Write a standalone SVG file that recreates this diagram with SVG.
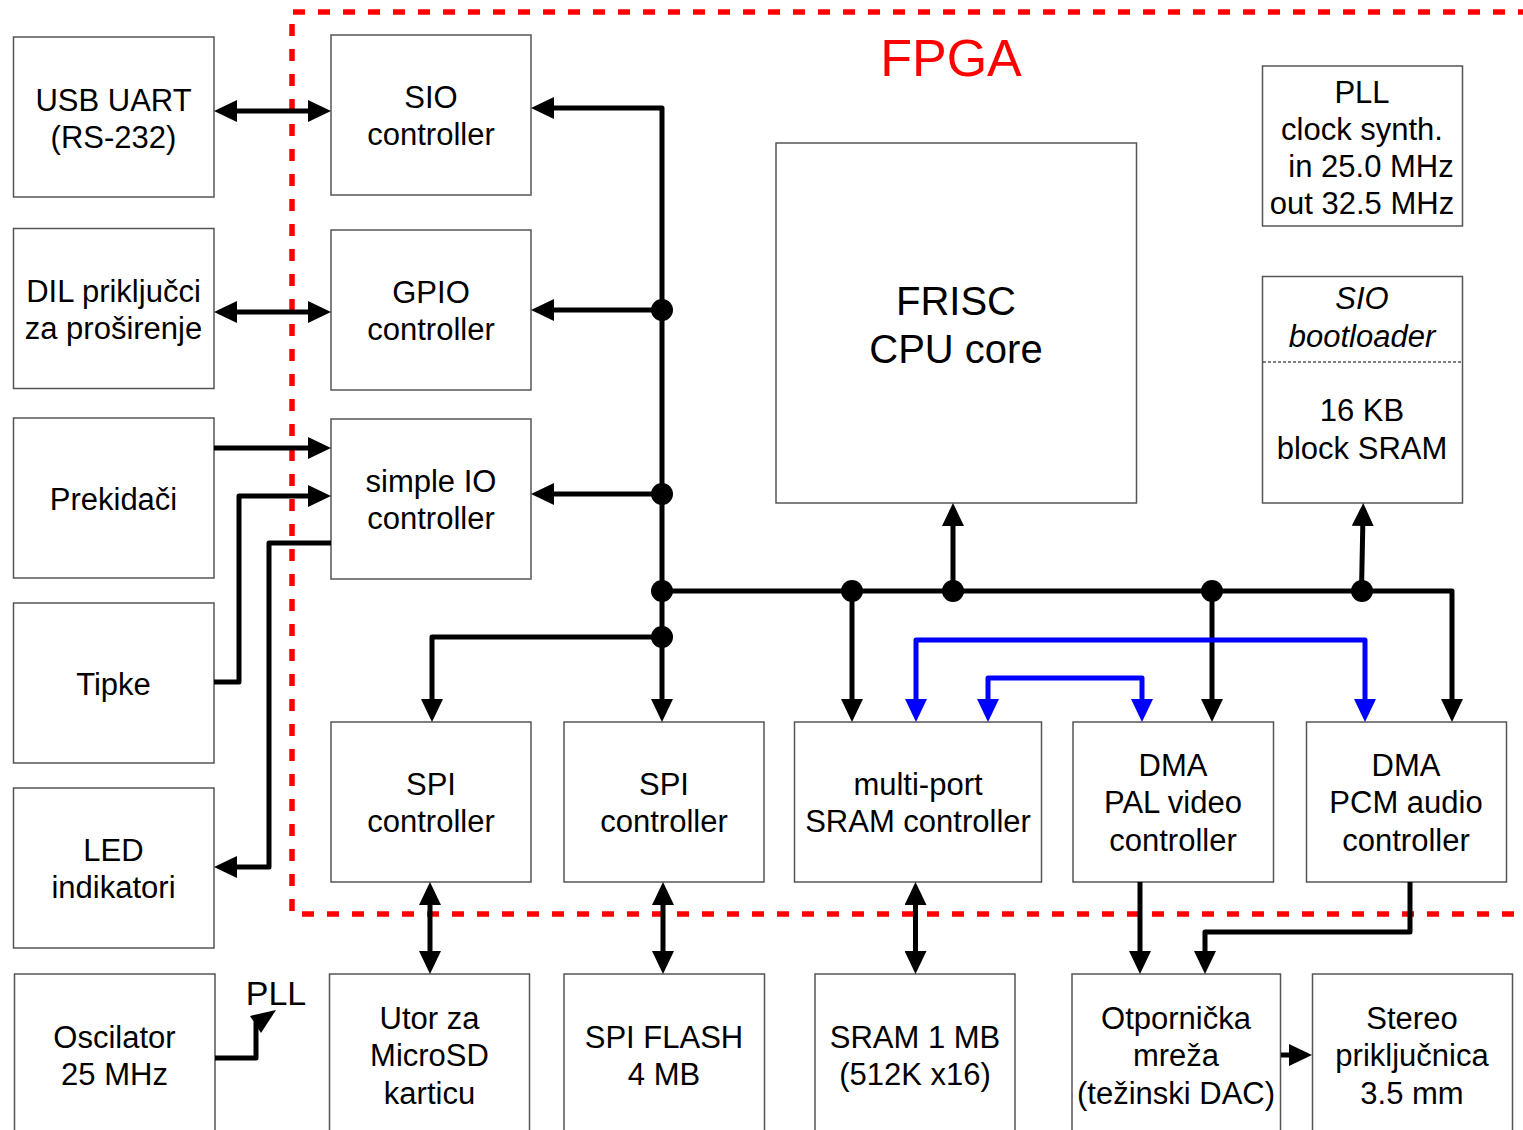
<svg xmlns="http://www.w3.org/2000/svg" width="1523" height="1130" viewBox="0 0 1523 1130">
<style>
.box{fill:#fff;stroke:#555;stroke-width:1.5}
.t{font-family:"Liberation Sans",Arial,sans-serif;font-size:31px;fill:#000;text-anchor:middle}
.c{fill:none;stroke:#000;stroke-width:5;stroke-linejoin:round}
.b{fill:none;stroke:#0000ff;stroke-width:5;stroke-linejoin:round}
.s{marker-end:url(#ah)}
.d{marker-start:url(#ah);marker-end:url(#ah)}
.bd{marker-start:url(#ahb);marker-end:url(#ahb)}
</style>
<defs>
<marker id="ah" viewBox="0 0 23 22" refX="1" refY="11" markerWidth="23" markerHeight="22" markerUnits="userSpaceOnUse" orient="auto-start-reverse"><path d="M0,0 L23,11 L0,22 z" fill="#000"/></marker>
<marker id="ahb" viewBox="0 0 23 22" refX="1" refY="11" markerWidth="23" markerHeight="22" markerUnits="userSpaceOnUse" orient="auto-start-reverse"><path d="M0,0 L23,11 L0,22 z" fill="#0000ff"/></marker>
</defs>
<rect width="1523" height="1130" fill="#fff"/>

<g id="fpga">
<path d="M1530 12 H292 V914 H1530" fill="none" stroke="#ff0000" stroke-width="5.5" stroke-dasharray="12 13"/>
<text x="951" y="76" font-family="'Liberation Sans',Arial,sans-serif" font-size="52" fill="#ff0000" text-anchor="middle">FPGA</text>
</g>

<g id="usb-uart"><rect class="box" x="13.5" y="37" width="200.5" height="160"/><text class="t" x="113.5" y="111">USB UART</text><text class="t" x="113.5" y="148">(RS-232)</text></g>
<g id="dil"><rect class="box" x="13.5" y="228.5" width="200.5" height="160"/><text class="t" x="113.5" y="302">DIL priključci</text><text class="t" x="113.5" y="339">za proširenje</text></g>
<g id="prekidaci"><rect class="box" x="13.5" y="418" width="200.5" height="160"/><text class="t" x="113.5" y="510">Prekidači</text></g>
<g id="tipke"><rect class="box" x="13.5" y="603" width="200.5" height="160"/><text class="t" x="113.5" y="695">Tipke</text></g>
<g id="led"><rect class="box" x="13.5" y="788" width="200.5" height="160"/><text class="t" x="113.5" y="861">LED</text><text class="t" x="113.5" y="898">indikatori</text></g>
<g id="oscilator"><rect class="box" x="14.5" y="974" width="200.5" height="160"/><text class="t" x="114.5" y="1048">Oscilator</text><text class="t" x="114.5" y="1085">25 MHz</text></g>

<g id="sio"><rect class="box" x="331" y="35" width="200" height="160"/><text class="t" x="431" y="108">SIO</text><text class="t" x="431" y="145">controller</text></g>
<g id="gpio"><rect class="box" x="331" y="230" width="200" height="160"/><text class="t" x="431" y="303">GPIO</text><text class="t" x="431" y="340">controller</text></g>
<g id="simpleio"><rect class="box" x="331" y="419" width="200" height="160"/><text class="t" x="431" y="492">simple IO</text><text class="t" x="431" y="529">controller</text></g>

<g id="frisc"><rect class="box" x="776" y="143" width="360.5" height="360"/><text class="t" x="956" y="315" font-size="40" style="font-size:40px">FRISC</text><text class="t" x="956" y="363" style="font-size:40px">CPU core</text></g>

<g id="pll"><rect class="box" x="1262.5" y="66" width="200" height="160"/><text class="t" x="1362" y="103">PLL</text><text class="t" x="1362" y="140">clock synth.</text><text class="t" x="1371" y="177">in 25.0 MHz</text><text class="t" x="1362" y="214">out 32.5 MHz</text></g>

<g id="bootsram"><rect class="box" x="1262.5" y="276.5" width="200" height="226.5"/><line x1="1263" y1="362" x2="1462" y2="362" stroke="#000" stroke-width="1" stroke-dasharray="3 2"/><text class="t" x="1362" y="309" font-style="italic">SIO</text><text class="t" x="1362" y="347" font-style="italic">bootloader</text><text class="t" x="1362" y="421">16 KB</text><text class="t" x="1362" y="459">block SRAM</text></g>

<g id="spi1"><rect class="box" x="331" y="722" width="200" height="160"/><text class="t" x="431" y="795">SPI</text><text class="t" x="431" y="832">controller</text></g>
<g id="spi2"><rect class="box" x="564" y="722" width="200" height="160"/><text class="t" x="664" y="795">SPI</text><text class="t" x="664" y="832">controller</text></g>
<g id="multiport"><rect class="box" x="794.5" y="722" width="247" height="160"/><text class="t" x="918" y="795">multi-port</text><text class="t" x="918" y="832">SRAM controller</text></g>
<g id="dmapal"><rect class="box" x="1073" y="722" width="200.5" height="160"/><text class="t" x="1173" y="776">DMA</text><text class="t" x="1173" y="813">PAL video</text><text class="t" x="1173" y="851">controller</text></g>
<g id="dmapcm"><rect class="box" x="1306.5" y="722" width="200" height="160"/><text class="t" x="1406" y="776">DMA</text><text class="t" x="1406" y="813">PCM audio</text><text class="t" x="1406" y="851">controller</text></g>

<g id="microsd"><rect class="box" x="329.5" y="974" width="200" height="160"/><text class="t" x="429.5" y="1029">Utor za</text><text class="t" x="429.5" y="1066">MicroSD</text><text class="t" x="429.5" y="1104">karticu</text></g>
<g id="spiflash"><rect class="box" x="564" y="974" width="200.5" height="160"/><text class="t" x="664" y="1048">SPI FLASH</text><text class="t" x="664" y="1085">4 MB</text></g>
<g id="sram"><rect class="box" x="815" y="974" width="200" height="160"/><text class="t" x="915" y="1048">SRAM 1 MB</text><text class="t" x="915" y="1085">(512K x16)</text></g>
<g id="dac"><rect class="box" x="1072" y="974" width="208.5" height="160"/><text class="t" x="1176" y="1029">Otpornička</text><text class="t" x="1176" y="1066">mreža</text><text class="t" x="1176" y="1104">(težinski DAC)</text></g>
<g id="stereo"><rect class="box" x="1312.5" y="974" width="200" height="160"/><text class="t" x="1412" y="1029">Stereo</text><text class="t" x="1412" y="1066">priključnica</text><text class="t" x="1412" y="1104">3.5 mm</text></g>

<g id="pll-label"><text class="t" x="276" y="1005" style="font-size:34px">PLL</text></g>

<g id="connectors">
<path class="c d" d="M236 111 H309"/>
<path class="c d" d="M236 312 H309"/>
<path class="c s" d="M214 448 H309"/>
<path class="c s" d="M214 682 H239 V496 H309"/>
<path class="c s" d="M331 543 H269 V867 H236"/>
<path class="c d" d="M553 108 H662 V700"/>
<path class="c s" d="M662 310 H553"/>
<path class="c s" d="M662 494 H553"/>
<path class="c s" d="M662 637 H432 V700"/>
<path class="c s" d="M662 591 H1452 V700"/>
<path class="c s" d="M852 591 V700"/>
<path class="c s" d="M953 591 V525"/>
<path class="c s" d="M1212 591 V700"/>
<path class="c s" d="M1361.5 591 L1362.8 525"/>
<path class="b bd" d="M916 700 V640 H1365 V700"/>
<path class="b bd" d="M988 700 V678 H1142 V700"/>
<path class="c d" d="M430 904 V952"/>
<path class="c d" d="M663 904 V952"/>
<path class="c d" d="M915.5 904 V952"/>
<path class="c s" d="M1140 882 V952"/>
<path class="c s" d="M1410 882 V932 H1205 V952"/>
<path class="c s" d="M1281 1055 H1290"/>
<path class="c" d="M215 1058 H256 V1022"/>
<polygon points="250,1016 276,1010 261,1033" fill="#000"/>
<circle cx="662" cy="310" r="11"/>
<circle cx="662" cy="494" r="11"/>
<circle cx="662" cy="591" r="11"/>
<circle cx="662" cy="637" r="11"/>
<circle cx="852" cy="591" r="11"/>
<circle cx="953" cy="591" r="11"/>
<circle cx="1212" cy="591" r="11"/>
<circle cx="1362" cy="591" r="11"/>
</g>
</svg>
